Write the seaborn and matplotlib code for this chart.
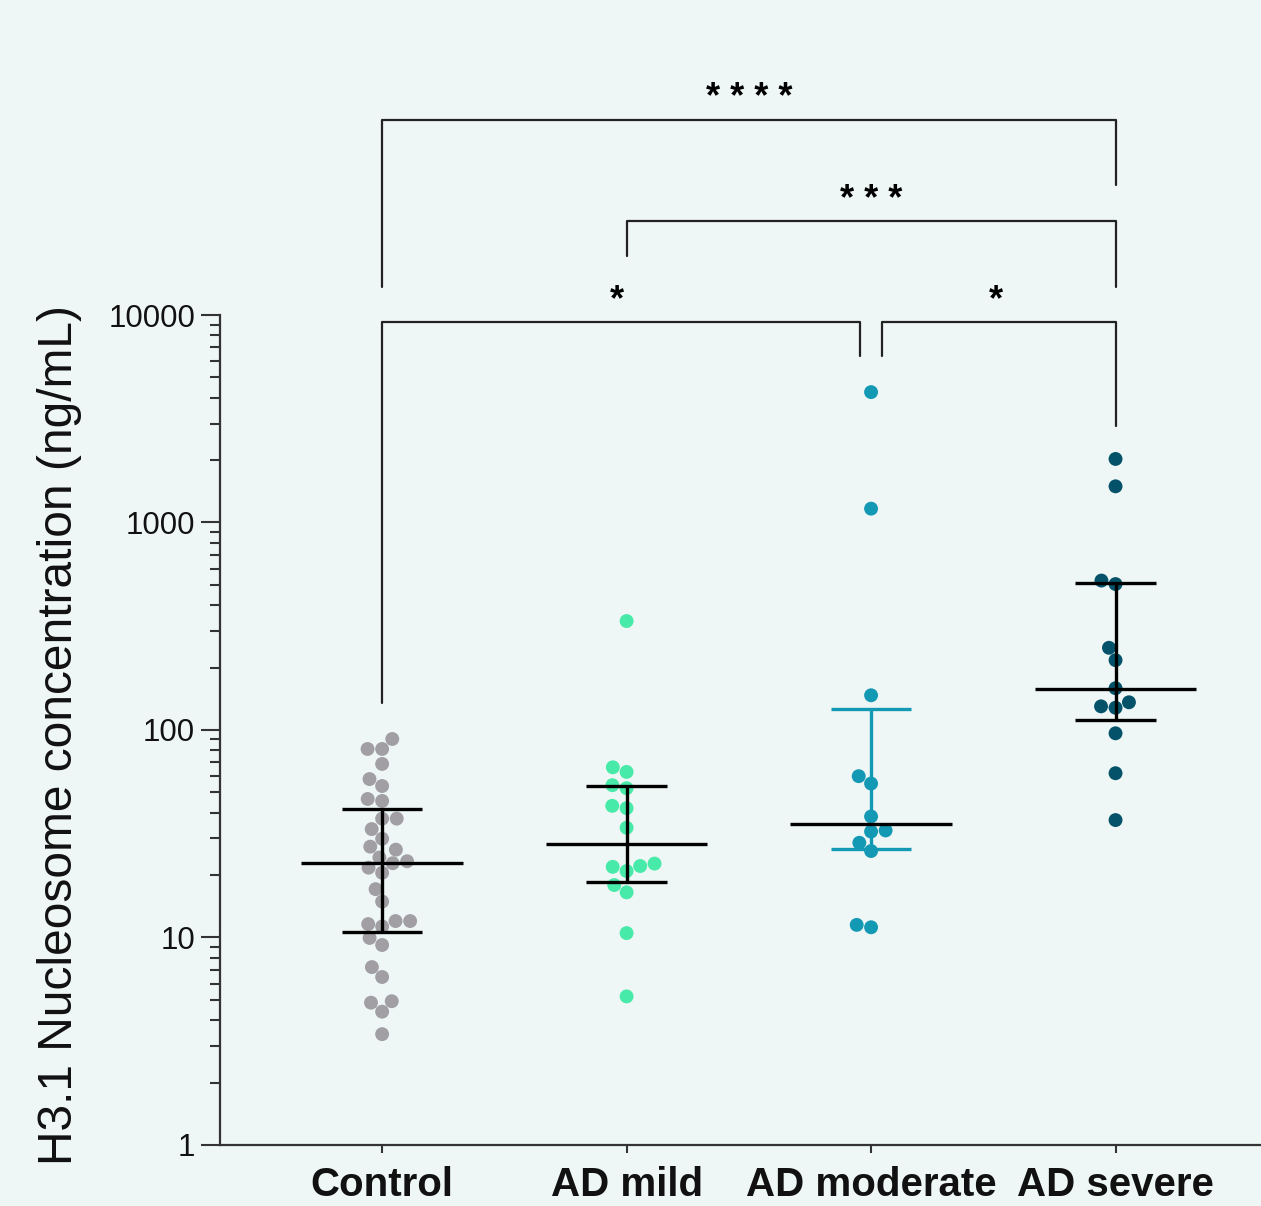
import numpy as np
import pandas as pd
import matplotlib
matplotlib.use("Agg")
import matplotlib.pyplot as plt
import matplotlib.ticker as mticker
import seaborn as sns

# Data (ng/mL)
groups = ["Control", "AD mild", "AD moderate", "AD severe"]

control = [90.5, 81, 81, 68.6, 58, 53.7, 45.5, 46.5, 37.4, 37.4, 33.3, 29.9,
           26.5, 27.4, 22.8, 24.3, 23.3, 21.7, 20.5, 17.1, 14.9, 12.0, 11.3,
           11.6, 12.0, 9.95, 9.2, 7.2, 6.45, 4.85, 4.93, 4.39, 3.42]
ad_mild = [335, 62.8, 66.1, 52.4, 54.2, 42, 43.1, 33.8, 21.9, 20.9, 22.7,
           22.1, 17.9, 16.5, 10.5, 5.2]
ad_moderate = [4250, 1166, 147, 59.9, 55.2, 38.3, 32.4, 32.8, 28.6, 26.1,
               11.2, 11.5]
ad_severe = [2024, 1494, 525, 505, 249, 217, 159, 136, 128, 130, 96.4, 61.9,
             36.8]

# median with interquartile range
medians = [22.9, 28.1, 35.4, 158]
q_low = [10.6, 18.6, 26.7, 112]
q_high = [41.5, 53.9, 126, 513]

colors = ["#a19fa4", "#48eaa9", "#1499b5", "#03526a"]
errbar_colors = ["black", "black", "#1499b5", "black"]

# significance brackets: (x1, x2, bar height, left leg end, right leg end, label, label x, label y)
brackets = [
    (0, 3, 87100, 13650, 42300, "* * * *", 1.5, 110000),
    (1, 3, 28400, 19250, 13650, "* * *", 2.0, 35800),
    (0, 1.955, 9250, 135, 6340, "*", 0.96, 11700),
    (2.045, 3, 9250, 6340, 2917, "*", 2.51, 11700),
]

bg = "#eef7f5"

df = pd.concat([pd.DataFrame({"group": g, "value": v})
                for g, v in zip(groups, [control, ad_mild, ad_moderate, ad_severe])])

sns.set_style("ticks")
plt.rcParams["font.family"] = ["Liberation Sans", "DejaVu Sans"]

fig = plt.figure(figsize=(12.61, 12.06), dpi=100, facecolor=bg)
ax = fig.add_axes([0.1745, 0.0506, 0.8255, 0.6882])
ax.set_facecolor(bg)
ax.set_yscale("log")

sns.swarmplot(data=df, x="group", y="value", hue="group", order=groups,
              palette=dict(zip(groups, colors)), size=10, linewidth=0,
              legend=False, ax=ax, zorder=2)

xs = np.arange(len(groups))
ax.hlines(medians, xs - 0.33, xs + 0.33, color="black", lw=2.4, zorder=4)
ax.vlines(xs, q_low, q_high, color=errbar_colors, lw=2.4, zorder=3)
ax.hlines(q_low, xs - 0.165, xs + 0.165, color=errbar_colors, lw=2.4, zorder=3)
ax.hlines(q_high, xs - 0.165, xs + 0.165, color=errbar_colors, lw=2.4, zorder=3)

for x1, x2, top, y1, y2, lab, tx, ty in brackets:
    ax.plot([x1, x1, x2, x2], [y1, top, top, y2], color="#222222", lw=1.6,
            clip_on=False, zorder=5)
    ax.text(tx, ty, lab, ha="center", va="center", fontsize=26,
            fontweight="bold", color="black", clip_on=False)

ax.set_ylim(1, 10000)
ax.set_xlim(-0.663, 3.595)
ax.yaxis.set_major_locator(mticker.FixedLocator([1, 10, 100, 1000, 10000]))
ax.yaxis.set_major_formatter(mticker.FuncFormatter(lambda v, p: f"{v:g}"))
ax.yaxis.set_minor_locator(mticker.LogLocator(base=10, subs=np.arange(2, 10)))
ax.yaxis.set_minor_formatter(mticker.NullFormatter())

ax.tick_params(axis="y", which="major", length=14, width=1.5, labelsize=22.5,
               color="#333333", labelcolor="#111111", pad=4)
ax.tick_params(axis="y", which="minor", length=7, width=1.5, color="#333333")
ax.tick_params(axis="x", length=6, width=1.5, color="#333333", labelsize=29,
               labelcolor="#111111", pad=9)
for lab in ax.get_xticklabels():
    lab.set_fontweight("bold")

ax.set_xlabel("")
ax.set_ylabel("H3.1 Nucleosome concentration (ng/mL)", fontsize=34.5,
              color="#111111")
ax.yaxis.set_label_coords(-0.1326, 0.494)

sns.despine(ax=ax, top=True, right=True)
for s in ["left", "bottom"]:
    ax.spines[s].set_linewidth(1.6)
    ax.spines[s].set_color("#333333")

fig.savefig("out.png", dpi=100, facecolor=bg)
